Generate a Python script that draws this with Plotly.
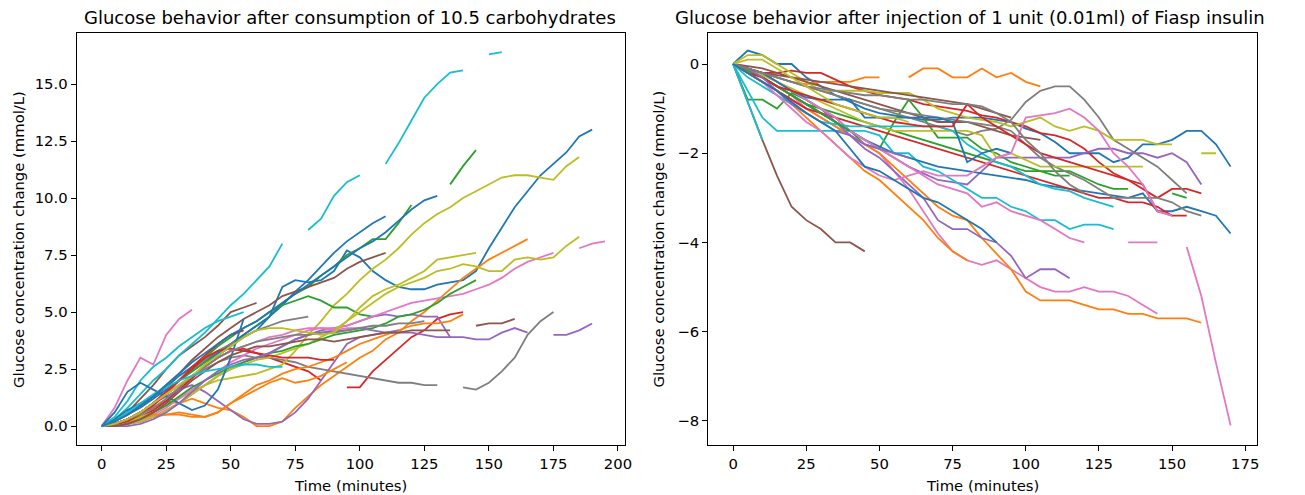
import plotly.graph_objects as go
from plotly.subplots import make_subplots

TAB10 = ["#1f77b4", "#ff7f0e", "#2ca02c", "#d62728", "#9467bd",
         "#8c564b", "#e377c2", "#7f7f7f", "#bcbd22", "#17becf"]

# sample times (minutes), one reading every 5 min
minutes_carb = [0, 5, 10, 15, 20, 25, 30, 35, 40, 45, 50, 55, 60, 65, 70, 75, 80, 85, 90, 95,
                100, 105, 110, 115, 120, 125, 130, 135, 140, 145, 150, 155, 160, 165, 170, 175,
                180, 185, 190, 195]
minutes_insulin = [0, 5, 10, 15, 20, 25, 30, 35, 40, 45, 50, 55, 60, 65, 70, 75, 80, 85, 90, 95,
                   100, 105, 110, 115, 120, 125, 130, 135, 140, 145, 150, 155, 160, 165, 170]

# =====================
# carbohydrate curves (mmol/L change)
# =====================
carb_blue_a = [0, 0.2, 0.5, 0.8, 1.2, 1.6, 2.0, 2.4, 2.8, 3.1, 3.5, 3.9, 4.2, 4.8, 6.1, 6.4, 6.3, 6.4, 6.8, 7.7,
               7.4, 6.8, 6.4, 6.1, 6.0, 6.0, 6.2, 6.3, 6.4, 6.8, 7.8, 8.7, 9.6, 10.3, 11.0, 11.5, 12.0, 12.7, 13.0]
carb_orange_a = [0, 0.1, 0.3, 0.5, 0.8, 1.1, 1.0, 1.2, 1.0, 0.8, 0.7, 0.4, 0.0, 0.0, 0.2, 0.8, 1.3, 1.8, 2.2, 2.6,
                 3.0, 3.3, 3.8, 4.1, 4.6, 5.0, 5.5, 6.0, 6.5, 6.9, 7.3, 7.6, 7.9, 8.2]
carb_green_a = [0, 0.1, 0.3, 0.6, 1.0, 1.5, 2.0, 2.4, 2.8, 3.2, 3.6, 4.0, 4.4, 4.8, 5.4, 5.8, 6.1, 6.6, 7.0, 7.5,
                7.8, 8.2, 8.2, 8.9, 9.7, None, None, 10.6, 11.4, 12.1]
carb_red_a = [0, 0.1, 0.2, 0.4, 0.7, 1.1, 1.6, 2.1, 2.6, 3.0, 3.3, 3.4, 3.2, 3.0, 2.8, 2.6, 2.4, 2.0, None, 1.7,
              1.7, 2.4, 2.9, 3.4, 3.9, 4.2, 4.7, 4.9, 5.0]
carb_purple_a = [0, 0.1, 0.3, 0.6, 1.0, 1.3, 1.6, 1.8, 1.5, 1.1, 0.7, 0.3, 0.1, 0.1, 0.2, 0.6, 1.2, 2.0, 2.8, 3.6,
                 3.9, 4.0, 4.1, 4.1, 4.1, 4.0, 3.9, 3.9, 3.9, 3.8, 3.8, 4.1, 4.3, 4.1, None, 4.0, 4.0, 4.2, 4.5]
carb_brown_a = [0, 0.2, 0.6, 1.2, 1.8, 2.5, 3.1, 3.5, 3.9, 4.4, 5.0, 5.2, 5.4]
carb_pink_a = [0, 0.8, 2.0, 3.0, 2.7, 4.0, 4.7, 5.1]
carb_gray_a = [0, 0.1, 0.3, 0.6, 1.0, 1.4, 1.8, 2.2, 2.5, 2.8, 3.0, 3.1, 3.0, 3.0, 2.9, 2.8, 2.6, 2.5, 2.4, 2.3,
               2.2, 2.1, 2.0, 1.9, 1.9, 1.8, 1.8, None, 1.7, 1.6, 1.9, 2.4, 3.0, 4.0, 4.6, 5.0]
carb_olive_a = [0, 0.05, 0.2, 0.4, 0.6, 0.9, 1.2, 1.5, 1.8, 2.0, 2.1, 2.2, 2.3, 2.5, 2.7, 3.3, 4.0, 4.6, 5.3, 5.8,
                6.4, 6.9, 7.3, 7.8, 8.4, 8.9, 9.3, 9.6, 10.0, 10.3, 10.6, 10.9, 11.0, 11.0, 10.9, 10.8, 11.4, 11.8]
carb_cyan_a = [0, 0.3, 0.8, 1.4, 2.0, 2.5, 3.1, 3.6, 4.1, 4.7, 5.3, 5.8, 6.4, 7.0, 8.0, None, 8.6, 9.1, 10.1, 10.7,
               11.0, None, 11.5, 12.4, 13.4, 14.4, 15.0, 15.5, 15.6, None, 16.3, 16.4]
carb_blue_b = [0, 0.3, 0.7, 1.0, 1.3, 1.7, 2.2, 2.6, 2.9, 3.2, 3.6, 4.0, 4.4, 4.8, 5.3, 5.9, 6.4, 7.0, 7.6, 8.1,
               8.5, 8.9, 9.2]
carb_orange_b = [0, 0.0, 0.1, 0.2, 0.4, 0.5, 0.6, 0.5, 0.4, 0.6, 1.0, 1.3, 1.6, 1.9, 2.1, 1.9, 2.0, 2.2, 2.5, 2.8]
carb_green_b = [0, 0.1, 0.3, 0.6, 1.0, 1.5, 2.0, 2.5, 3.0, 3.5, 3.9, 4.3, 4.6, 5.0, 5.3, 5.5, 5.7, 5.5, 5.2, 5.2,
                4.9, 4.8]
carb_red_b = [0, 0.05, 0.2, 0.5, 0.9, 1.4, 2.0, 2.6, 3.1, 3.6, 4.0, 4.2]
carb_purple_b = [0, 0.0, 0.1, 0.2, 0.4, 0.7, 1.0, 1.4, 1.8, 2.2, 2.5, 2.8, 3.0, 3.2, 3.5, 3.8, 4.0, 4.2, 4.3, 4.4,
                 4.6, 4.8, 4.9, 4.8, 4.9, 4.8, 4.8, 3.9]
carb_brown_b = [0, 0.2, 0.5, 0.9, 1.3, 1.8, 2.3, 2.9, 3.4, 3.9, 4.3, 4.7, 5.0, 5.3, 5.7, 5.9, 6.1, 6.3, 6.5, 6.9,
                7.2, 7.4, 7.6]
carb_pink_b = [0, 0.0, 0.1, 0.3, 0.5, 0.8, 1.2, 1.6, 2.0, 2.4, 2.8, 3.1, 3.4, 3.6, 3.8, 4.0, 4.2, 4.3, 4.3, 4.4,
               4.6, 4.8, 5.0, 5.2, 5.4, 5.5, 5.6, 5.7, 5.8, 6.0, 6.2, 6.5, 6.9, 7.2, 7.4, 7.6, None, 7.8, 8.0, 8.1]
carb_gray_b = [0, 0.1, 0.3, 0.6, 1.0, 1.5, 2.0, 2.5, 2.9, 3.3, 3.6, 3.9, 4.2, 4.4, 4.6, 4.7, 4.8]
carb_olive_b = [0, 0.0, 0.1, 0.2, 0.4, 0.7, 1.0, 1.4, 1.8, 2.2, 2.5, 2.7, 2.9, 3.0, 3.2, 3.4, 3.6, 3.9, 4.2, 4.6,
                5.0, 5.4, 5.8, 6.1, 6.3, 6.5, 6.8, 6.9, 7.1, 7.0, 6.8, 6.8, 7.3, 7.4, 7.3, 7.4, 7.9, 8.3]
carb_cyan_b = [0, 0.4, 1.1, 2.0, 2.6, 3.0, 3.5, 3.9, 4.3, 4.6, 4.8, 5.0]
carb_blue_c = [0, 0.6, 1.5, 1.9, 1.6, 1.3, 1.0, 0.7, 0.9, 1.6, 3.0, 4.7]
carb_orange_c = [0, 0.0, 0.1, 0.3, 0.5, 0.5, 0.5, 0.4, 0.4, 0.6, 1.0, 1.4, 1.8, 2.0, 2.3, 2.5, 2.6, 2.8, 3.0, 3.3,
                 3.6, 3.8, 4.0, 4.2, 4.4, 4.5, 4.5, 4.6, 4.9]
carb_green_c = [0, 0.0, 0.1, 0.3, 0.6, 0.9, 1.3, 1.7, 2.0, 2.3, 2.6, 2.8, 3.0, 3.2, 3.3, 3.5, 3.6, 3.8, 4.0, 4.1,
                4.2, 4.3, 4.5, 4.8, 4.9, 5.1, 5.4, 5.8, 6.1, 6.4]
carb_red_c = [0, 0.1, 0.3, 0.6, 1.0, 1.5, 2.0, 2.5, 3.0, 3.3, 3.4, 3.3, 3.2, 3.1, 3.0, 3.0, 3.0, 2.9, 2.9]
carb_purple_c = [0, 0.0, 0.0, 0.1, 0.3, 0.6, 1.0, 1.5, 2.0, 2.4, 2.7, 2.9, 3.0, 3.2, 3.5, 3.8, 4.0, 4.1, 4.2, 4.2,
                 4.3, 4.2, 4.1, 4.2]
carb_brown_c = [0, 0.0, 0.1, 0.3, 0.6, 1.0, 1.5, 2.0, 2.4, 2.8, 3.1, 3.3, 3.5, 3.5, 3.6, 3.7, 3.8, 3.8, 3.7, 3.8,
                3.9, 4.0, 4.1, 4.1, 4.2, 4.2, 4.2, 4.2, None, 4.4, 4.5, 4.5, 4.7]
carb_pink_c = [0, 0.1, 0.3, 0.6, 1.0, 1.4, 1.8, 2.2, 2.6, 3.0, 3.3, 3.5, 3.7, 3.9, 4.0, 4.2, 4.3, 4.3, 4.2, 4.3, 4.3]
carb_gray_c = [0, 0.1, 0.3, 0.5, 0.8, 1.2, 1.7, 2.2, 2.6, 3.0, 3.3, 3.5, 3.7, 3.8, 3.9, 4.0, 4.0, 4.1, 4.1, 4.2,
               4.3, 4.4, 4.4, 4.5, 4.5, 4.6]
carb_olive_c = [0, 0.1, 0.3, 0.6, 1.0, 1.4, 1.8, 2.2, 2.7, 3.1, 3.5, 3.9, 4.2, 4.3, 4.3, 4.2, 4.1, 4.0, 4.1, 4.6,
                5.2, 5.7, 6.0, 6.2, 6.5, 6.8, 7.3, 7.4, 7.5, 7.6]
carb_cyan_c = [0, 0.2, 0.6, 1.0, 1.4, 1.7, 2.0, 2.2, 2.4, 2.5, 2.6, 2.7, 2.7, 2.6, 2.6]
carb_blue_d = [0, 0.2, 0.5, 0.9, 1.3, 1.8, 2.3, 2.8, 3.2, 3.6, 4.0, 4.3, 4.6, 5.0, 5.4, 5.8, 6.2, 6.6, 7.0, 7.4,
               7.8, 8.1, 8.5, 9.0, 9.5, 9.9, 10.1]

# =====================
# insulin curves (mmol/L change)
# =====================
ins_blue_a = [0, 0.3, 0.2, 0.0, 0.0, -0.3, -0.5, -0.7, -0.85, -1.0, -1.1, -1.15, -1.2, -1.25, -1.25, -1.2, -1.2,
              -1.2, -1.25, -1.3, -1.45, -1.55, -1.75, -2.0, -2.0, -2.0, -2.2, -2.1, -1.8, -1.8, -1.7, -1.5, -1.5,
              -1.8, -2.3]
ins_orange_a = [0, -0.1, -0.2, -0.3, -0.4, -0.45, -0.4, -0.4, -0.4, -0.3, -0.3, None, -0.3, -0.1, -0.1, -0.3,
                -0.3, -0.1, -0.3, -0.2, -0.4, -0.5]
ins_green_a = [0, -0.8, -0.8, -1.0, -0.65, -0.8, -1.0, -1.2, -1.5, -1.8, -1.9, -1.3, -0.8, -1.2, -1.65, -1.65,
               -1.65, -1.9, -2.0, -2.2, -2.3, -2.4, -2.4, -2.4, -2.55, -2.7, -2.8, -2.8, None, None, -2.9, -3.0]
ins_red_a = [0, -0.1, -0.2, -0.2, -0.15, -0.2, -0.2, -0.35, -0.5, -0.6, -0.7, -0.75, -0.8, -0.9, -0.95, -1.0,
             -1.05, -1.15, -1.2, -1.3, -1.4, -1.55, -1.6, -1.7, -1.9, -2.2, -2.45, -2.6, -2.8, -3.0, -2.8, -2.8, -2.9]
ins_purple_a = [0, -0.1, -0.3, -0.5, -0.7, -0.9, -1.1, -1.3, -1.5, -1.7, -1.9, -2.1, -2.3, -2.45, -2.6, -2.65,
                -2.7, -2.4, -2.1, -2.1, -2.1, -2.1, -2.1, -2.1, -2.0, -1.9, -1.9, -2.0, -2.0, -2.1, -2.0, -2.2, -2.7]
ins_brown_a = [0, -0.85, -1.7, -2.5, -3.2, -3.5, -3.7, -4.0, -4.0, -4.2]
ins_pink_a = [0, -0.1, -0.3, -0.5, -0.7, -1.0, -1.2, -1.4, -1.6, -1.8, -2.0, -2.4, -2.8, -3.3, -3.8, -4.2, -4.4,
              -4.5, -4.4, -4.6, -4.8, -5.0, -5.1, -5.1, -5.0, -5.1, -5.1, -5.2, -5.4, -5.6]
ins_gray_a = [0, -0.1, -0.2, -0.3, -0.4, -0.5, -0.6, -0.7, -0.8, -0.9, -1.0, -1.1, -1.2, -1.3, -1.4, -1.5, -1.6,
              -1.5, -1.45, -1.25, -0.85, -0.6, -0.5, -0.5, -0.8, -1.2, -1.7, -1.9, -2.1, -2.3, -2.6, -2.9]
ins_olive_a = [0, 0.2, 0.2, 0.0, -0.2, -0.4, -0.6, -0.6, -0.6, -0.6, -0.65, -0.65, -0.65, -0.8, -1.0, -1.1, -1.2,
               -1.25, -1.3, -1.4, -1.3, -1.2, -1.4, -1.5, -1.4, -1.5, -1.7, -1.7, -1.7, -1.8, -1.8, None, -2.0, -2.0]
ins_cyan_a = [0, -0.6, -1.2, -1.5, -1.5, -1.5, -1.5, -1.5, -1.5, -1.5, -1.6, -2.0, -2.0, -2.3, -2.4, -2.6, -2.8,
              -3.0, -3.0, -3.2, -3.3, -3.5, -3.5, -3.7, -3.6, -3.6, -3.7]
ins_blue_b = [0, -0.1, -0.3, -0.5, -0.7, -0.9, -1.1, -1.3, -1.5, -1.7, -1.85, -2.0, -2.1, -2.2, -2.3, -2.35, -2.4,
              -2.45, -2.5, -2.55, -2.6, -2.7, -2.75, -2.8, -2.85, -2.9, -2.95, -3.0, -2.9, -3.3, -3.3, -3.2, -3.3,
              -3.4, -3.8]
ins_orange_b = [0, -0.2, -0.4, -0.6, -0.8, -1.0, -1.2, -1.4, -1.6, -1.8, -2.0, -2.3, -2.6, -2.9, -3.2, -3.4, -3.5,
                -3.9, -4.25, -4.6, -5.1, -5.3, -5.3, -5.3, -5.4, -5.5, -5.5, -5.6, -5.6, -5.7, -5.7, -5.7, -5.8]
ins_green_b = [0, -0.1, -0.3, -0.5, -0.7, -0.9, -1.0, -1.1, -1.2, -1.3, -1.4, -1.5, -1.6, -1.7, -1.8, -1.9, -2.0,
               -2.1, -2.2, -2.3, -2.4, -2.4, -2.5, -2.5]
ins_red_b = [0, -0.2, -0.4, -0.6, -0.8, -1.0, -1.1, -1.2, -1.3, -1.4, -1.5, -1.6, -1.7, -1.8, -1.9, -2.0, -2.1,
             -2.2, -2.3, -2.4, -2.5, -2.6, -2.7, -2.8, -2.9, -3.0, -3.0, -3.1, -3.1, -3.2, -3.4, -3.4]
ins_purple_b = [0, -0.1, -0.2, -0.4, -0.6, -0.8, -1.0, -1.3, -1.6, -1.9, -2.1, -2.4, -2.7, -3.0, -3.5, -3.7, -3.7,
                -3.9, -4.0, -4.3, -4.8, -4.6, -4.6, -4.8]
ins_brown_b = [0, -0.05, -0.1, -0.2, -0.3, -0.4, -0.5, -0.6, -0.7, -0.8, -0.9, -1.0, -1.1, -1.2, -1.3, -1.3, -1.3,
               -1.4, -1.5, -1.6, -1.65, -1.7]
ins_pink_b = [0, -0.1, -0.2, -0.4, -0.6, -0.8, -1.0, -1.2, -1.5, -1.7, -1.9, -2.1, -2.3, -2.5, -2.7, -2.8, -2.9,
              -3.2, -3.1, -3.3, -3.4, -3.5, -3.7, -3.9, -4.0, None, None, -4.0, -4.0, -4.0, None, -4.1, -5.2, -6.7,
              -8.1]
ins_gray_b = [0, -0.1, -0.2, -0.3, -0.4, -0.5, -0.6, -0.7, -0.8, -0.9, -1.0, -1.05, -1.1, -1.15, -1.2, -1.25, -1.3,
              -1.35, -1.4, -1.5, -1.8, -2.1, -2.3, -2.45, -2.6, -2.8, -3.0, -3.0, -3.0, -3.0, -3.1, -3.3, -3.4]
ins_olive_b = [0, -0.1, -0.25, -0.4, -0.55, -0.7, -0.85, -1.0, -1.15, -1.3, -1.4, -1.5, -1.5, -1.5, -1.5, -1.5,
               -1.5, -1.6, -2.1, -2.0, -2.15, -2.3, -2.3, -2.3, -2.3, -2.3, -2.3, -2.3, -2.3]
ins_cyan_b = [0, -0.3, -0.5, -0.7, -0.9, -1.1, -1.3, -1.35, -1.4, -1.4, -1.4, -1.4, -1.4, -1.4, -1.4, -1.5, -1.8,
              -2.0, -2.2, -2.3, -2.5, -2.7, -2.8, -2.85, -3.0, -3.1, -3.2]
ins_blue_c = [0, -0.1, -0.2, -0.4, -0.6, -0.75, -0.8, -0.8, -0.8, -1.2, -1.2, -1.2, -1.2, -1.2, -1.2, -1.3, -2.2,
              -2.0, -1.9, -2.0]
ins_orange_c = [0, -0.2, -0.4, -0.6, -0.9, -1.2, -1.5, -1.8, -2.1, -2.4, -2.6, -2.9, -3.2, -3.5, -3.9, -4.2, -4.4]
ins_green_c = [0, -0.15, -0.3, -0.5, -0.7, -0.9, -1.1, -1.3, -1.5]
ins_red_c = [0, -0.2, -0.3, -0.5, -0.6, -0.7, -0.8, -0.9, -1.0, -1.1, -1.2, -1.3, -1.35, -1.4, -1.4, -1.4, -0.9,
             -1.2, -1.4, -1.6, -1.8, -2.0, -2.1, -2.2, -2.3, -2.4, -2.5, -2.6, -2.7, -3.3, -3.4]
ins_purple_c = [0, -0.1, -0.3, -0.6, -0.9, -1.1, -1.3, -1.5, -1.6, -1.8, -1.9, -2.0, -2.1]
ins_brown_c = [0, -0.1, -0.2, -0.25, -0.3, -0.35, -0.4, -0.45, -0.5, -0.55, -0.6, -0.65, -0.7, -0.75, -0.8, -0.85,
               -0.9, -1.0, -1.1, -1.2]
ins_pink_c = [0, -0.2, -0.4, -0.7, -1.0, -1.3, -1.5, -1.8, -2.1, -2.3, -2.5, -2.6, -2.5, -2.4, -2.5, -2.5, -2.5,
              -2.3, -2.1, -2.0, -1.2, -1.15, -1.1, -1.0, -1.2, -1.5, -2.0, -2.3, -2.7, -3.3, -3.4]
ins_gray_c = [0, -0.1, -0.2, -0.3, -0.4, -0.5, -0.55, -0.6, -0.65, -0.7, -0.7, -0.75, -0.8, -0.8, -0.85, -0.9,
              -0.9, -0.95, -1.1, -1.3, -1.7, -2.0, -2.4, -2.7, -2.9]
ins_olive_c = [0, 0.1, 0.1, -0.1, -0.3, -0.5, -0.7, -0.9, -1.0, -1.1, -1.2, -1.2, -1.3]
ins_cyan_c = [0, -0.85, -1.7]
ins_blue_d = [0, -0.2, -0.4, -0.6, -0.85, -1.1, -1.3, -1.5, -1.9, -2.3, -2.4, -2.6, -2.8, -3.0, -3.1, -3.3, -3.5,
              -3.7, -4.0]

# plotting order follows the colour cycle
carb_curves = [
    carb_blue_a, carb_orange_a, carb_green_a, carb_red_a, carb_purple_a,
    carb_brown_a, carb_pink_a, carb_gray_a, carb_olive_a, carb_cyan_a,
    carb_blue_b, carb_orange_b, carb_green_b, carb_red_b, carb_purple_b,
    carb_brown_b, carb_pink_b, carb_gray_b, carb_olive_b, carb_cyan_b,
    carb_blue_c, carb_orange_c, carb_green_c, carb_red_c, carb_purple_c,
    carb_brown_c, carb_pink_c, carb_gray_c, carb_olive_c, carb_cyan_c,
    carb_blue_d,
]
ins_curves = [
    ins_blue_a, ins_orange_a, ins_green_a, ins_red_a, ins_purple_a,
    ins_brown_a, ins_pink_a, ins_gray_a, ins_olive_a, ins_cyan_a,
    ins_blue_b, ins_orange_b, ins_green_b, ins_red_b, ins_purple_b,
    ins_brown_b, ins_pink_b, ins_gray_b, ins_olive_b, ins_cyan_b,
    ins_blue_c, ins_orange_c, ins_green_c, ins_red_c, ins_purple_c,
    ins_brown_c, ins_pink_c, ins_gray_c, ins_olive_c, ins_cyan_c,
    ins_blue_d,
]

# the page body adds an 8px margin at top-left, so lay out in page pixels minus that offset
OFF = 8
W, H = 1305 - OFF, 495 - OFF
FONT = "DejaVu Sans"


def px_x(p):
    return (p - OFF) / W


def px_y(p):
    return 1 - (p - OFF) / H


fig = make_subplots(rows=1, cols=2)

for i, curve in enumerate(carb_curves):
    fig.add_scatter(x=minutes_carb[:len(curve)], y=curve, mode="lines",
                    line=dict(color=TAB10[i % 10], width=1.8), row=1, col=1)

for i, curve in enumerate(ins_curves):
    fig.add_scatter(x=minutes_insulin[:len(curve)], y=curve, mode="lines",
                    line=dict(color=TAB10[i % 10], width=1.8), row=1, col=2)

axis_style = dict(showgrid=False, zeroline=False, showline=True, mirror=True,
                  linecolor="black", linewidth=1, ticks="outside", ticklen=5,
                  tickwidth=1, tickcolor="black",
                  tickfont=dict(family=FONT, size=14.8, color="black"))

fig.update_xaxes(axis_style)
fig.update_yaxes(axis_style)

fig.update_layout(
    xaxis=dict(domain=[px_x(77), px_x(628)], range=[-9.7, 202.6], dtick=25),
    yaxis=dict(domain=[px_y(445), px_y(33)], range=[-0.83, 17.24], dtick=2.5, tickformat=".1f"),
    xaxis2=dict(domain=[px_x(712), px_x(1264)], range=[-8.5, 179.1], dtick=25),
    yaxis2=dict(domain=[px_y(445), px_y(33)], range=[-8.54, 0.695], tickvals=[0, -2, -4, -6, -8]),
    width=W, height=H,
    margin=dict(l=0, r=0, t=0, b=0),
    plot_bgcolor="white", paper_bgcolor="white",
    showlegend=False,
    font=dict(family=FONT, color="black"),
)


def text_note(txt, x, y, size, angle=0):
    fig.add_annotation(text=txt, x=px_x(x), y=px_y(y), xref="paper", yref="paper",
                       showarrow=False, textangle=angle,
                       font=dict(family=FONT, size=size, color="black"),
                       xanchor="center", yanchor="middle")


text_note("Glucose behavior after consumption of 10.5 carbohydrates", 352, 18, 18)
text_note("Glucose behavior after injection of 1 unit (0.01ml) of Fiasp insulin", 975, 18, 18)
text_note("Time (minutes)", 352, 485, 14.8)
text_note("Time (minutes)", 988, 485, 14.8)
text_note("Glucose concentration change (mmol/L)", 18, 239, 14.8, -90)
text_note("Glucose concentration change (mmol/L)", 662, 239, 14.8, -90)

fig.write_html("out.html")
